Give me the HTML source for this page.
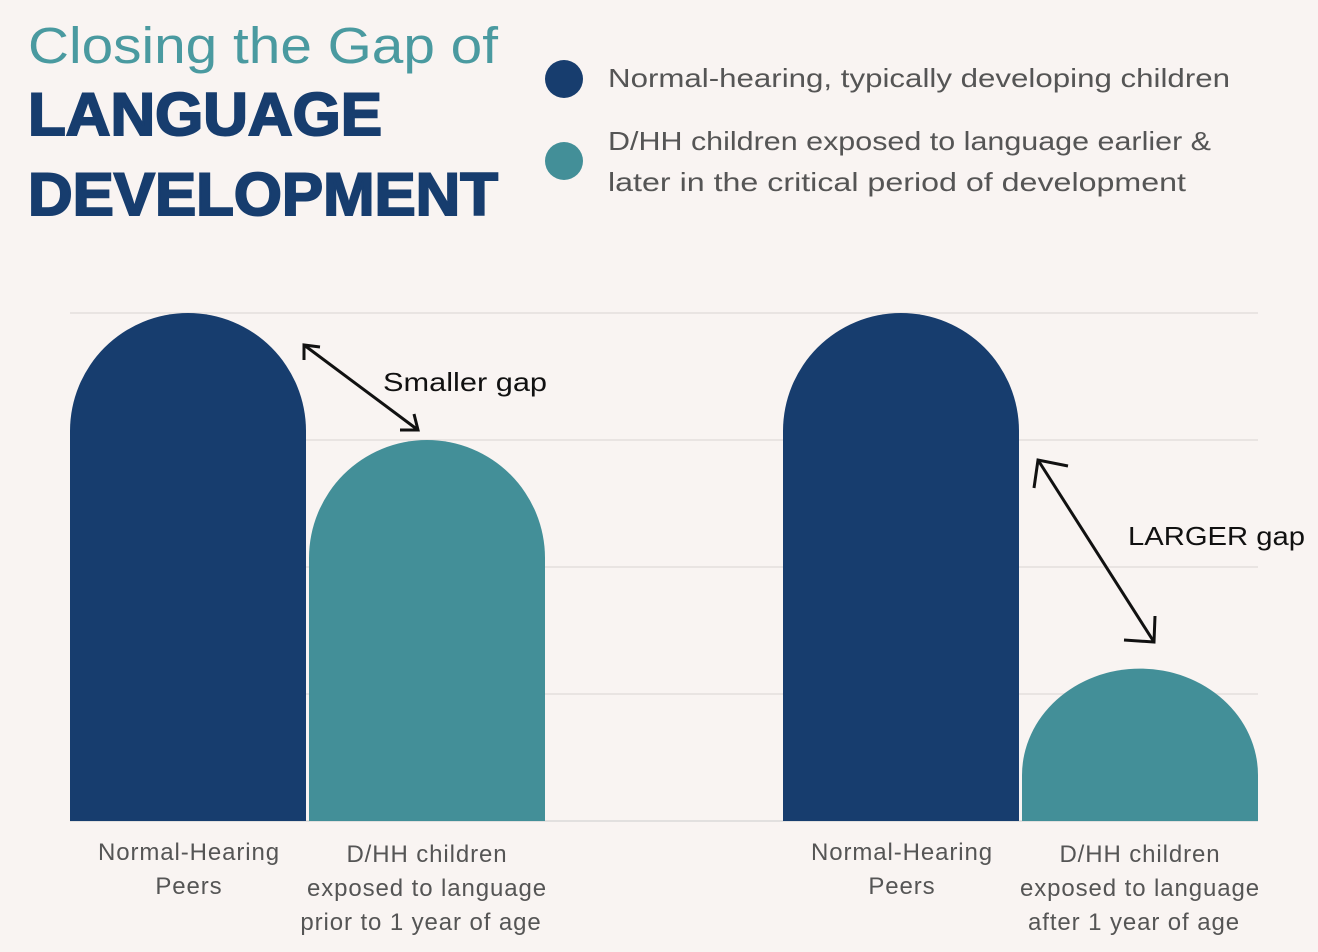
<!DOCTYPE html>
<html><head><meta charset="utf-8"><style>
html,body{margin:0;padding:0;background:#f9f4f2;}
svg{display:block;font-family:"Liberation Sans",sans-serif;}
</style></head><body>
<svg width="1318" height="952" viewBox="0 0 1318 952">
<rect width="1318" height="952" fill="#f9f4f2"/>
<text x="28" y="63" font-size="51" fill="#4a9aa0" textLength="470" lengthAdjust="spacingAndGlyphs">Closing the Gap of</text>
<text x="28" y="135" font-size="60" font-weight="bold" fill="#173d6e" stroke="#173d6e" stroke-width="2" textLength="354" lengthAdjust="spacingAndGlyphs">LANGUAGE</text>
<text x="28" y="215" font-size="60" font-weight="bold" fill="#173d6e" stroke="#173d6e" stroke-width="2" textLength="470" lengthAdjust="spacingAndGlyphs">DEVELOPMENT</text>
<circle cx="564" cy="79" r="19" fill="#173d6e"/>
<text x="608" y="87" font-size="26" fill="#555" textLength="622" lengthAdjust="spacingAndGlyphs">Normal-hearing, typically developing children</text>
<circle cx="564" cy="161" r="19" fill="#438f98"/>
<text x="608" y="150" font-size="26" fill="#555" textLength="603" lengthAdjust="spacingAndGlyphs">D/HH children exposed to language earlier &amp;</text>
<text x="608" y="191" font-size="26" fill="#555" textLength="578" lengthAdjust="spacingAndGlyphs">later in the critical period of development</text>
<g id="grid"></g>
<g id="bars"></g>
<g id="labels"></g>
<g stroke="#111" stroke-width="3" fill="none">
<line x1="304" y1="345" x2="418" y2="430"/>
<polyline points="304,360 304,345 320,347"/>
<polyline points="400,430 418,430 414,414"/>
</g>
<text x="383" y="391" font-size="26" fill="#111" textLength="164" lengthAdjust="spacingAndGlyphs">Smaller gap</text>
<g stroke="#111" stroke-width="3" fill="none">
<line x1="1038" y1="460" x2="1154" y2="642"/>
<polyline points="1034,488 1038,460 1068,466"/>
<polyline points="1124,640 1154,642 1155,616"/>
</g>
<text x="1128" y="545" font-size="26" fill="#111" textLength="177" lengthAdjust="spacingAndGlyphs">LARGER gap</text>
<script>
const categories=["Normal-Hearing|Peers","D/HH children|exposed to language|prior to 1 year of age","Normal-Hearing|Peers","D/HH children|exposed to language|after 1 year of age"];
const values=[4,3,4,1.2];
const seriesColors=["#173d6e","#438f98","#173d6e","#438f98"];
const gridTicks=[1,2,3,4];
const NS="http://www.w3.org/2000/svg";
const base=821,unit=127;
function y(v){return base-v*unit;}
const xs=[70,309,783,1022],bw=236;
const g=document.getElementById('grid');
gridTicks.forEach(t=>{const l=document.createElementNS(NS,'line');
l.setAttribute('x1',70);l.setAttribute('x2',1258);l.setAttribute('y1',y(t));l.setAttribute('y2',y(t));
l.setAttribute('stroke','#e4dedc');l.setAttribute('stroke-width','1.5');


g.appendChild(l);});
const bl=document.createElementNS(NS,'line');bl.setAttribute('x1',70);bl.setAttribute('x2',1258);bl.setAttribute('y1',base);bl.setAttribute('y2',base);bl.setAttribute('stroke','#ccc');


g.appendChild(bl);
const b=document.getElementById('bars'),lb=document.getElementById('labels');
values.forEach((v,i)=>{const x=xs[i],top=y(v),h=base-top;const rx=bw/2,ry=Math.min(rx,h*0.7);
const p=document.createElementNS(NS,'path');
p.setAttribute('d',`M${x},${base} L${x},${top+ry} A${rx},${ry} 0 0 1 ${x+rx},${top} A${rx},${ry} 0 0 1 ${x+bw},${top+ry} L${x+bw},${base} Z`);
p.setAttribute('fill',seriesColors[i]);


b.appendChild(p);
const lines=categories[i].split('|');const y0=lines.length==2?860:862;
lines.forEach((s,j)=>{const t=document.createElementNS(NS,'text');t.setAttribute('x',x+bw/2-(lines.length==2?-1:0)+(j==2&&lines.length==3?-6:0));t.setAttribute('y',y0+j*34);
t.setAttribute('text-anchor','middle');t.setAttribute('font-size','24');t.setAttribute('letter-spacing','0.9');t.setAttribute('fill','#555');t.textContent=s;


lb.appendChild(t);});});
</script>
</svg>
</body></html>
